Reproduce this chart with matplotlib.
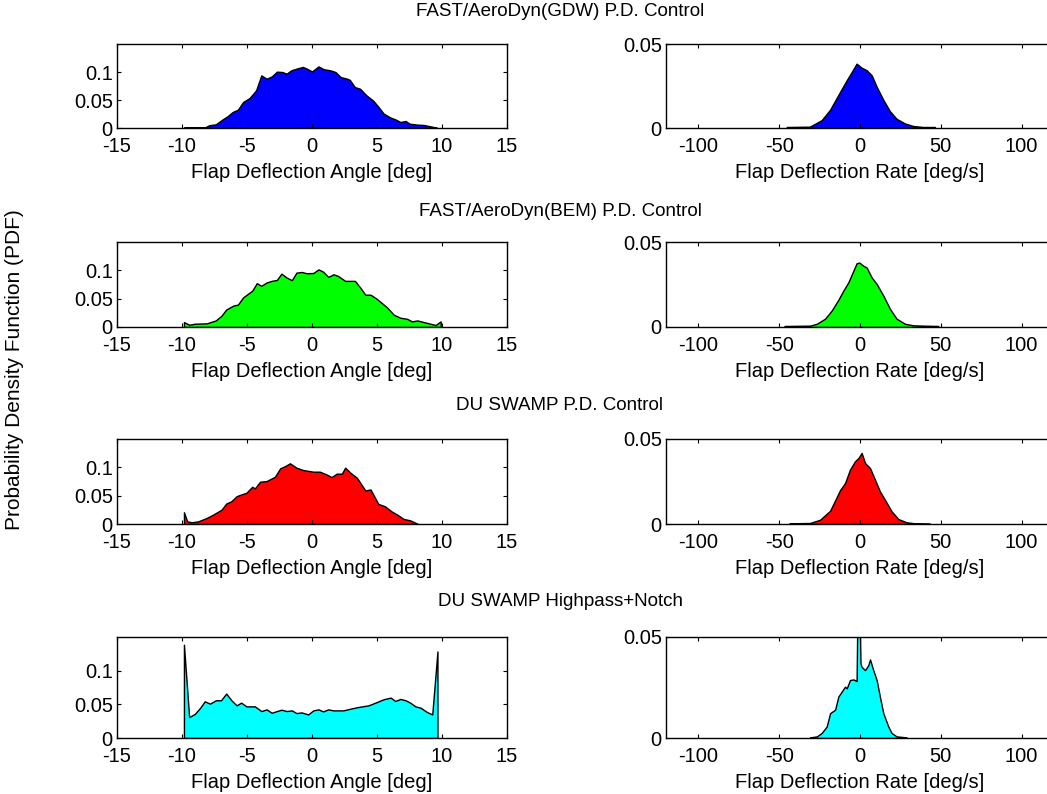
import matplotlib
matplotlib.use("Agg")
import matplotlib.pyplot as plt

plt.rcParams['font.family'] = ['Liberation Sans', 'DejaVu Sans']
plt.rcParams['axes.unicode_minus'] = False

titles = ["FAST/AeroDyn(GDW) P.D. Control",
          "FAST/AeroDyn(BEM) P.D. Control",
          "DU SWAMP P.D. Control",
          "DU SWAMP Highpass+Notch"]
colors = ["#0000ff", "#00ff00", "#ff0000", "#00ffff"]
angle_label = "Flap Deflection Angle [deg]"
rate_label = "Flap Deflection Rate [deg/s]"
ylabel_text = "Probability Density Function (PDF)"

angle_ticks = [-15, -10, -5, 0, 5, 10, 15]
angle_yticks = [0, 0.05, 0.1]
angle_yticklabels = ["0", "0.05", "0.1"]
rate_ticks = [-100, -50, 0, 50, 100]
rate_yticks = [0, 0.05]
rate_yticklabels = ["0", "0.05"]

# ---- Flap deflection angle PDFs ----
angle_x_gdw = [-9.85, -8.2, -7.9, -7.4, -6.9, -6.5, -6.1, -5.7, -5.3, -4.8, -4.3, -3.9, -3.5,
               -3.1, -2.7, -2.3, -1.95, -1.6, -1.05, -0.7, -0.4, 0.0, 0.5, 0.9, 1.4, 1.8, 2.2,
               2.7, 2.9, 3.3, 3.7, 4.2, 4.7, 5.1, 5.5, 6.0, 6.4, 6.8, 7.2, 7.5, 8.1, 8.6, 9.1, 9.6]
angle_pdf_gdw = [0.001, 0.0015, 0.005, 0.0065, 0.015, 0.021, 0.0286, 0.0327, 0.0464, 0.0536,
                 0.0673, 0.094, 0.088, 0.092, 0.1006, 0.1, 0.097, 0.103, 0.107, 0.109, 0.106,
                 0.101, 0.110, 0.105, 0.103, 0.1, 0.091, 0.088, 0.086, 0.073, 0.070, 0.058,
                 0.049, 0.038, 0.026, 0.019, 0.0155, 0.0107, 0.0125, 0.0077, 0.006, 0.0054,
                 0.003, 0.0006]

angle_x_bem = [-9.85, -9.45, -9.0, -8.1, -7.4, -6.95, -6.6, -6.05, -5.7, -5.3, -4.6, -4.25,
               -3.9, -3.5, -3.1, -2.7, -2.35, -1.95, -1.55, -1.2, -0.8, -0.4, 0.1, 0.5, 0.85,
               1.25, 1.65, 2.0, 2.55, 3.3, 3.7, 4.1, 4.5, 5.0, 5.75, 6.3, 6.8, 7.3, 7.7, 8.1,
               8.6, 9.1, 9.5, 9.9]
angle_pdf_bem = [0.0087, 0.004, 0.0058, 0.0064, 0.0116, 0.0203, 0.0308, 0.0378, 0.0395,
                 0.0523, 0.064, 0.0773, 0.0727, 0.0785, 0.0814, 0.0831, 0.0942, 0.0872,
                 0.0826, 0.0959, 0.0971, 0.0948, 0.0953, 0.1017, 0.0977, 0.0884, 0.093,
                 0.0901, 0.0814, 0.0814, 0.0698, 0.057, 0.057, 0.0494, 0.0349, 0.0215,
                 0.0163, 0.0145, 0.0099, 0.0116, 0.0087, 0.0058, 0.0035, 0.0099]

angle_x_swamp = [-9.85, -9.6, -9.25, -8.75, -8.1, -7.6, -6.95, -6.6, -6.2, -5.8, -5.3, -5.05,
                 -4.6, -4.4, -4.0, -3.5, -2.85, -2.45, -2.05, -1.7, -1.2, -0.7, 0.1, 0.6, 1.1,
                 1.5, 1.9, 2.3, 2.55, 2.95, 3.45, 4.1, 4.5, 5.1, 5.6, 6.1, 6.55, 7.05, 7.55, 8.1]
angle_pdf_swamp = [0.0207, 0.0047, 0.003, 0.0047, 0.0107, 0.0166, 0.0254, 0.0361, 0.0402,
                   0.0491, 0.0533, 0.055, 0.0657, 0.0627, 0.0746, 0.0757, 0.0834, 0.0982,
                   0.1024, 0.1071, 0.0994, 0.0953, 0.0923, 0.0923, 0.0876, 0.0828, 0.0888,
                   0.0888, 0.0994, 0.0905, 0.0817, 0.0592, 0.0609, 0.0355, 0.0314, 0.0225,
                   0.0166, 0.0089, 0.0065, 0.0006]

angle_x_hpn = [-9.85, -9.45, -9.0, -8.6, -8.25, -7.85, -7.4, -7.0, -6.6, -6.2, -5.8, -5.45,
               -5.05, -4.4, -3.9, -3.5, -3.1, -2.7, -2.35, -1.95, -1.55, -1.2, -0.8, -0.3,
               0.1, 0.5, 0.85, 1.25, 1.65, 2.4, 2.95, 3.55, 4.35, 5.0, 5.5, 6.05, 6.4, 6.8,
               7.2, 7.55, 7.95, 8.35, 8.85, 9.25, 9.65]
angle_pdf_hpn = [0.1385, 0.031, 0.036, 0.045, 0.0545, 0.051, 0.056, 0.056, 0.066, 0.056,
                 0.0485, 0.0525, 0.047, 0.047, 0.04, 0.0425, 0.0375, 0.04, 0.042, 0.04,
                 0.041, 0.037, 0.038, 0.035, 0.041, 0.0425, 0.0395, 0.0425, 0.041, 0.041,
                 0.0435, 0.046, 0.0485, 0.0535, 0.0575, 0.06, 0.055, 0.058, 0.056, 0.0525,
                 0.047, 0.045, 0.0385, 0.035, 0.1285]

# ---- Flap deflection rate PDFs ----
rate_x_gdw = [-45.3, -31, -23.7, -18.5, -13.4, -8.2, -5.1, -2.1, 1.0, 4.1, 7.2, 10.3, 14.4,
              18.5, 22.6, 27.8, 32.9, 39, 46.3]
rate_pdf_gdw = [0.0006, 0.0008, 0.0047, 0.0109, 0.0197, 0.0285, 0.0334, 0.0383, 0.0359,
                0.0344, 0.0314, 0.0246, 0.0168, 0.01, 0.0055, 0.0027, 0.0012, 0.0006, 0.0006]

rate_x_bem = [-46.7, -30.9, -26.7, -21.6, -17.5, -13.4, -10.3, -7.2, -4.1, -2.1, -0.4, 2.1,
              4.1, 7.2, 10.3, 14.4, 18.5, 22.6, 27.8, 32.9, 39, 48.4]
rate_pdf_bem = [0.0006, 0.0008, 0.0019, 0.0049, 0.0097, 0.016, 0.0214, 0.0263, 0.0331,
                0.0375, 0.0379, 0.036, 0.035, 0.0292, 0.0253, 0.0185, 0.0107, 0.0049,
                0.0019, 0.001, 0.0008, 0.0006]

rate_x_swamp = [-43.6, -30.9, -24.7, -18.5, -12.3, -9.3, -6.2, -3.1, -1.0, 1.0, 3.1, 6.2,
                9.3, 12.3, 15.4, 19.5, 23.7, 28.8, 33.9, 43.2]
rate_pdf_swamp = [0.0004, 0.0006, 0.0025, 0.0078, 0.020, 0.024, 0.032, 0.0369, 0.0388,
                  0.0418, 0.0359, 0.0329, 0.026, 0.0192, 0.0143, 0.0075, 0.0029, 0.001,
                  0.0004, 0.0002]

rate_x_hpn = [-30.9, -26.7, -23.7, -20.6, -18.5, -15.4, -13.4, -11.3, -9.3, -8.2, -6.2, -4.1,
              -2.1, -1.6, -0.2, 0.3, 1.0, 3.1, 5.1, 6.2, 8.2, 10.3, 12.3, 14.4, 17.5, 19.5,
              22.6, 28.8]
rate_pdf_hpn = [0.0003, 0.0008, 0.0025, 0.0057, 0.0123, 0.014, 0.0205, 0.023, 0.0254,
                0.0246, 0.0287, 0.029, 0.0282, 0.062, 0.062, 0.037, 0.0352, 0.0336, 0.036,
                0.0389, 0.0336, 0.0287, 0.0205, 0.0123, 0.0057, 0.0025, 0.0008, 0.0003]

angle_data = [(angle_x_gdw, angle_pdf_gdw), (angle_x_bem, angle_pdf_bem),
              (angle_x_swamp, angle_pdf_swamp), (angle_x_hpn, angle_pdf_hpn)]
rate_data = [(rate_x_gdw, rate_pdf_gdw), (rate_x_bem, rate_pdf_bem),
             (rate_x_swamp, rate_pdf_swamp), (rate_x_hpn, rate_pdf_hpn)]

W, H = 1047, 794
fig = plt.figure(figsize=(W / 100, H / 100), dpi=100)

# rows: (top px, bottom px)
rows_px = [(44, 128), (242, 327), (439, 524), (637, 738)]
title_y_px = [12, 211, 406, 602]
left_px = (117, 507)
right_px = (666, 1054)

FS = 14.5
TFS = 13.5


def style(ax):
    ax.tick_params(direction='in', top=True, right=True, length=3, width=0.8,
                   labelsize=FS)
    ax.tick_params(axis='x', pad=6.5)
    ax.tick_params(axis='y', pad=3)
    for s in ax.spines.values():
        s.set_linewidth(1.0)
        s.set_color('black')
    ax.set_facecolor('white')


for i in range(4):
    top, bot = rows_px[i]
    b = 1 - bot / H
    h = (bot - top) / H
    # angle
    axl = fig.add_axes([left_px[0] / W, b, (left_px[1] - left_px[0]) / W, h])
    x, y = angle_data[i]
    axl.fill_between(x, 0, y, facecolor=colors[i], edgecolor='black', linewidth=1.0)
    axl.set_xlim(-15, 15)
    axl.set_ylim(0, 0.15)
    axl.set_xticks(angle_ticks)
    axl.set_xticklabels([str(t) for t in angle_ticks])
    axl.set_yticks(angle_yticks)
    axl.set_yticklabels(angle_yticklabels)
    style(axl)
    axl.set_xlabel(angle_label, fontsize=FS, labelpad=5)
    # rate
    axr = fig.add_axes([right_px[0] / W, b, (right_px[1] - right_px[0]) / W, h])
    x, y = rate_data[i]
    axr.fill_between(x, 0, y, facecolor=colors[i], edgecolor='black', linewidth=1.0)
    axr.set_xlim(-120, 120)
    axr.set_ylim(0, 0.05)
    axr.set_xticks(rate_ticks)
    axr.set_xticklabels([str(t) for t in rate_ticks])
    axr.set_yticks(rate_yticks)
    axr.set_yticklabels(rate_yticklabels)
    style(axr)
    axr.set_xlabel(rate_label, fontsize=FS, labelpad=5)
    fig.text(560 / W, 1 - title_y_px[i] / H, titles[i], ha='center', va='center',
             fontsize=TFS)

fig.text(15 / W, 1 - 370 / H, ylabel_text, rotation=90, ha='center', va='center',
         fontsize=15)

fig.savefig("out.png", dpi=100, facecolor='white')
